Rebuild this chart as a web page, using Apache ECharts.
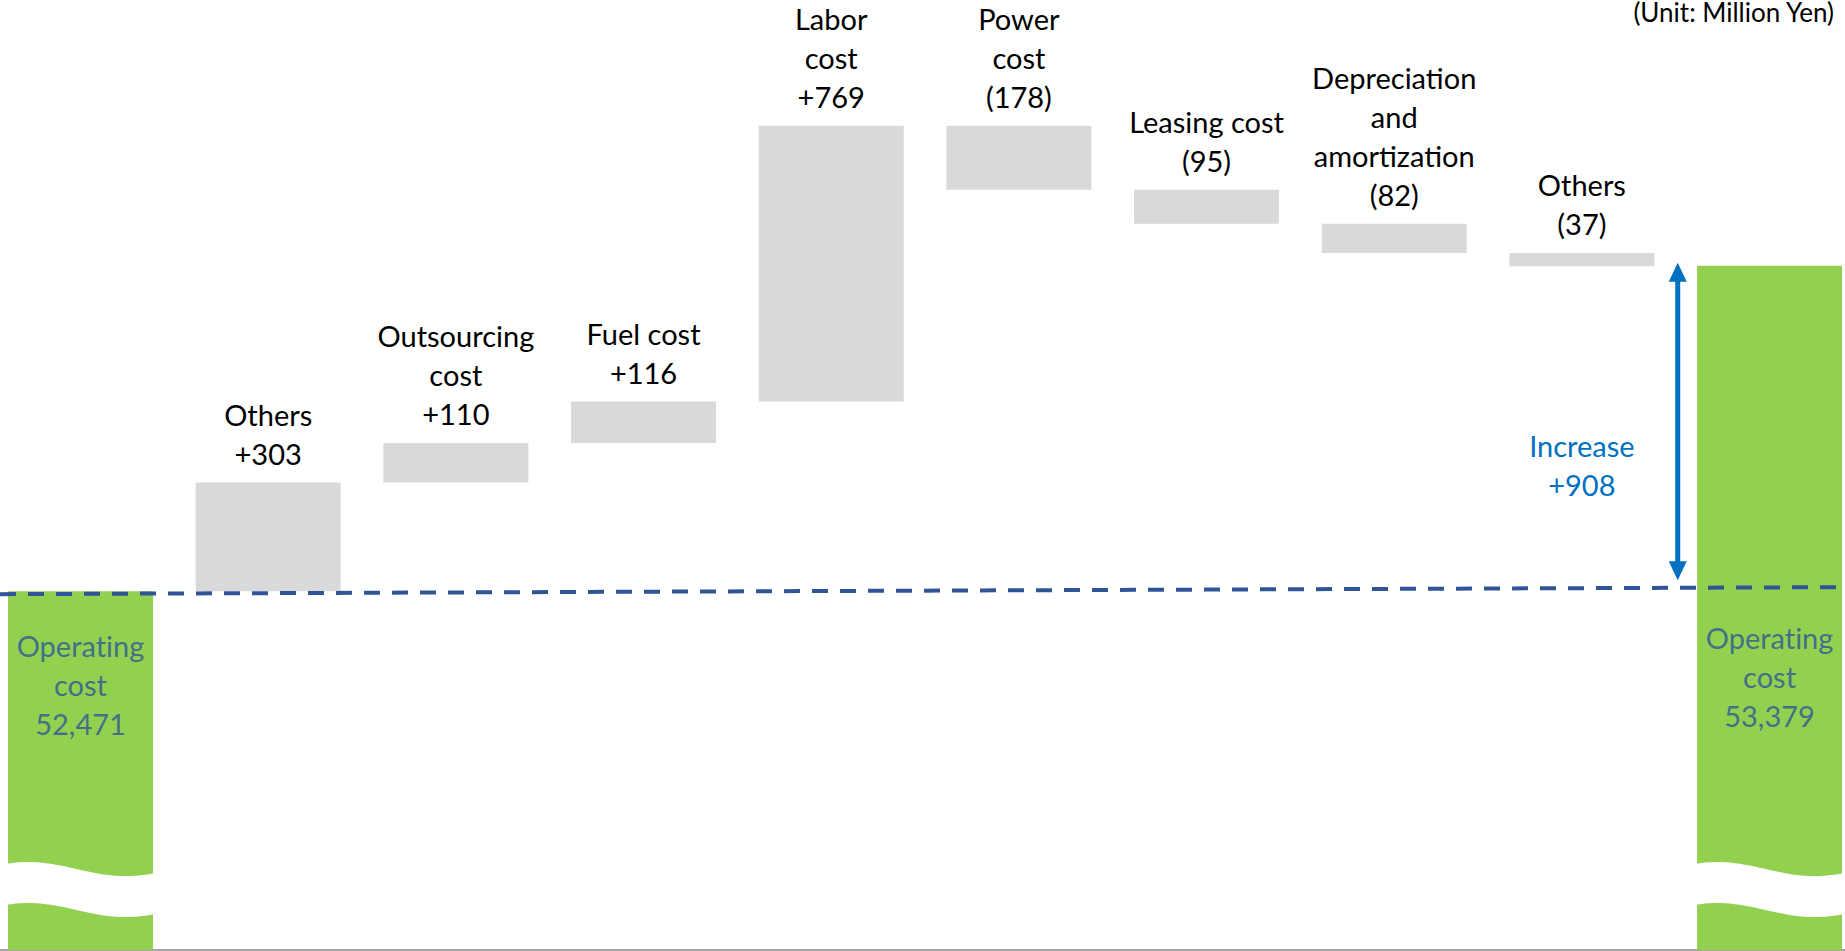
<!DOCTYPE html>
<html>
<head>
<meta charset="utf-8">
<script src="https://cdn.jsdelivr.net/npm/echarts@6/dist/echarts.min.js"></script>
<style>
    html, body { margin: 0; padding: 0; background: #fff; }
    #chart { width: 1845px; height: 951px; font-variant-ligatures: none; }
    #chart text { font-variant-ligatures: none; }
</style>
</head>
<body>
<div id="chart"></div>
<script>
// chart data
var categories = ['Operating\ncost', 'Others', 'Outsourcing\ncost', 'Fuel cost', 'Labor\ncost',
    'Power\ncost', 'Leasing cost', 'Depreciation\nand\namortization', 'Others', 'Operating\ncost'];
var startTotal = 52471;
var endTotal = 53379;
var changes = [303, 110, 116, 769, -178, -95, -82, -37];
var increase = 908;
var unitText = '(Unit: Million Yen)';

var FONT = 'Lato';
var BAR_W = 145;

// waterfall steps: [index, low, high, change]
var stepData = [];
var run = startTotal;
changes.forEach(function (c, i) {
    var next = run + c;
    stepData.push([i + 1, Math.min(run, next), Math.max(run, next), c]);
    run = next;
});
var totalData = [[0, startTotal], [9, endTotal]];

function fmtChange(c) {
    return c > 0 ? '+' + c : '(' + (-c) + ')';
}

function renderStep(params, api) {
    var i = api.value(0);
    var pTop = api.coord([i, api.value(2)]);
    var pBot = api.coord([i, api.value(1)]);
    return {
        type: 'rect',
        shape: { x: pTop[0] - BAR_W / 2, y: pTop[1], width: BAR_W, height: pBot[1] - pTop[1] },
        style: { fill: '#D9D9D9' },
        textContent: {
            style: {
                text: categories[i] + '\n' + fmtChange(api.value(3)),
                font: '29px ' + FONT, lineHeight: 39, fill: '#000', align: 'center'
            }
        },
        textConfig: { position: 'top', distance: 10 }
    };
}

// white wavy cut over the tall total bars
function renderBreak(params, api) {
    var p = api.coord([api.value(0), api.value(1)]);
    var w = BAR_W + 4;
    var x0 = p[0] - w / 2;
    var top = p[1] - 27, gap = 41;
    var up = [], down = [];
    for (var i = 0; i <= 30; i++) {
        var u = i / 30;
        var dy = 7 - 7 * Math.cos(2 * Math.PI * (u - 0.15) / 1.3);
        up.push([x0 + u * w, top + dy]);
        down.unshift([x0 + u * w, top + gap + dy]);
    }
    return {
        type: 'polygon',
        shape: { points: up.concat(down) },
        style: { fill: '#fff' }
    };
}

function renderDash(params, api) {
    var p = api.coord([api.value(0), api.value(1)]);
    var cs = params.coordSys;
    return {
        type: 'line',
        shape: { x1: cs.x, y1: p[1] + 3, x2: cs.x + cs.width, y2: p[1] - 4 },
        style: { stroke: '#2F5597', lineWidth: 4, lineDash: [16, 12] }
    };
}

function renderArrow(params, api) {
    var bw = api.size([1, 0])[0];
    var topP = api.coord([api.value(0), api.value(2)]);
    var botP = api.coord([api.value(0), api.value(1)]);
    var x = topP[0] - bw / 2 + 2;
    var y1 = topP[1] - 3, y2 = botP[1] - 11;
    var head = 19, hw = 9;
    return {
        type: 'group',
        children: [
            { type: 'line', shape: { x1: x, y1: y1 + head - 2, x2: x, y2: y2 - head + 2 },
              style: { stroke: '#0070C0', lineWidth: 5 } },
            { type: 'polygon', shape: { points: [[x, y1], [x - hw, y1 + head], [x + hw, y1 + head]] },
              style: { fill: '#0070C0' } },
            { type: 'polygon', shape: { points: [[x, y2], [x - hw, y2 - head], [x + hw, y2 - head]] },
              style: { fill: '#0070C0' } },
            { type: 'text', style: {
                text: 'Increase\n+' + increase,
                x: topP[0] - bw, y: (y1 + y2) / 2 + 44,
                align: 'center', verticalAlign: 'middle',
                font: '29px ' + FONT, lineHeight: 39, fill: '#0070C0'
            } }
        ]
    };
}

var chart = echarts.init(document.getElementById('chart'), null, { renderer: 'svg' });

var option = {
    backgroundColor: '#fff',
    animation: false,
    grid: { left: 0, right: 0, top: 0, bottom: 1 },
    xAxis: {
        type: 'value',
        min: -0.429,
        max: 9.402,
        axisLine: { show: true, lineStyle: { color: '#A6A6A6', width: 2 } },
        axisTick: { show: false },
        axisLabel: { show: false },
        splitLine: { show: false }
    },
    yAxis: {
        type: 'value',
        min: 51470,
        max: 54120,
        show: false,
        splitLine: { show: false }
    },
    graphic: [{
        type: 'text',
        right: 10,
        top: -1,
        style: { text: unitText, font: '26px ' + FONT, fill: '#000' }
    }],
    series: [
        {
            type: 'custom', renderItem: renderStep, z: 2,
            data: stepData
        },
        {
            type: 'bar', barWidth: BAR_W,
            itemStyle: { color: '#92D050' },
            data: totalData
        },
        {
            type: 'custom', renderItem: renderBreak, z: 3,
            data: [[0, 51640], [9, 51640]]
        },
        {
            type: 'custom', renderItem: renderDash, z: 4,
            data: [[0, startTotal]]
        },
        {
            type: 'custom', renderItem: renderArrow, z: 4,
            data: [[9, startTotal, endTotal]]
        },
        {
            type: 'scatter', symbolSize: 0, z: 5,
            label: {
                show: true, position: 'inside',
                color: '#2F5597', fontFamily: FONT, fontSize: 29, lineHeight: 39,
                formatter: function (p) {
                    var v = p.dataIndex === 0 ? startTotal : endTotal;
                    return categories[p.value[0]] + '\n' + v.toLocaleString('en-US');
                }
            },
            data: [
                { value: [0, startTotal - 260] },
                { value: [9, startTotal - 260], label: { offset: [0, -8] } }
            ]
        }
    ]
};

chart.setOption(option);
</script>
</body>
</html>
